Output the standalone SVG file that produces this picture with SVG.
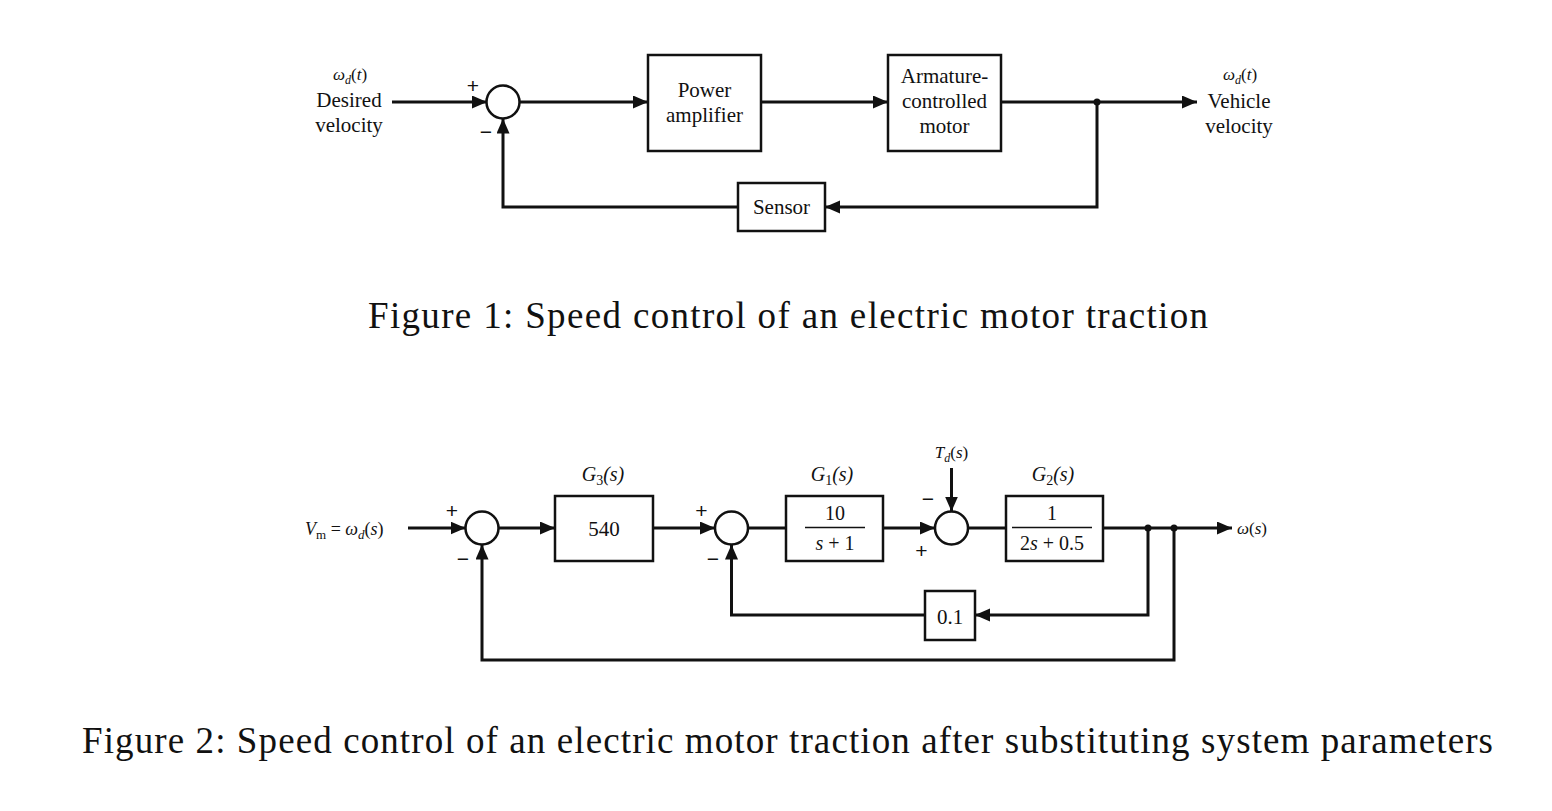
<svg xmlns="http://www.w3.org/2000/svg" width="1552" height="811" viewBox="0 0 1552 811">
<style>
.bx{fill:#fff;stroke:#111;stroke-width:2.5}
.sj{fill:#fff;stroke:#111;stroke-width:2.5}
.ln{fill:none;stroke:#111;stroke-width:3}
.ar{fill:none;stroke:#111;stroke-width:3;marker-end:url(#ah)}
.t{font-family:"Liberation Serif","Times New Roman",serif;fill:#111}
.bt{font-size:21px;text-anchor:middle}
.lb{font-size:20px;text-anchor:middle}
.it{font-style:italic}
.sg{font-family:"Liberation Sans",Arial,sans-serif;font-size:21px;fill:#111;text-anchor:middle;dominant-baseline:central}
.cap{font-family:"Liberation Serif","Times New Roman",serif;font-size:37px;fill:#111}
</style>
<defs>
<marker id="ah" markerUnits="userSpaceOnUse" markerWidth="16" markerHeight="14" refX="15" refY="6.5" orient="auto">
<path d="M0,0 L15,6.5 L0,13 Z" fill="#111"/>
</marker>
</defs>
<rect width="1552" height="811" fill="#fff"/>

<!-- ===== Figure 1 ===== -->
<g id="connectors1">
<path class="ar" d="M392,102 H487"/>
<path class="ar" d="M520,102 H648"/>
<path class="ar" d="M761,102 H888"/>
<path class="ar" d="M1001,102 H1197"/>
<path class="ar" d="M1097,102 V207 H825"/>
<path class="ar" d="M738,207 H503 V118.5"/>
<circle cx="1097" cy="102" r="3.5" fill="#111"/>
</g>
<g id="sum1">
<circle class="sj" cx="503" cy="102" r="16.5"/>
<text class="sg" x="473" y="85">+</text>
<text class="sg" x="486" y="131">−</text>
</g>
<g id="power-amplifier">
<rect class="bx" x="648" y="55" width="113" height="96"/>
<text class="t bt" x="704.5" y="97">Power</text>
<text class="t bt" x="704.5" y="122">amplifier</text>
</g>
<g id="armature-motor">
<rect class="bx" x="888" y="55" width="113" height="96"/>
<text class="t bt" x="944.5" y="83">Armature-</text>
<text class="t bt" x="944.5" y="108">controlled</text>
<text class="t bt" x="944.5" y="133">motor</text>
</g>
<g id="sensor">
<rect class="bx" x="738" y="183" width="87" height="48"/>
<text class="t bt" x="781.5" y="214">Sensor</text>
</g>
<g id="input-label1">
<text class="t" x="350" y="80" font-size="17" text-anchor="middle"><tspan font-style="italic">ω</tspan><tspan font-style="italic" font-size="12" dy="4">d</tspan><tspan dy="-4">(</tspan><tspan font-style="italic">t</tspan><tspan>)</tspan></text>
<text class="t" x="349" y="107" font-size="21" text-anchor="middle">Desired</text>
<text class="t" x="349" y="132" font-size="21" text-anchor="middle">velocity</text>
</g>
<g id="output-label1">
<text class="t" x="1240" y="80" font-size="17" text-anchor="middle"><tspan font-style="italic">ω</tspan><tspan font-style="italic" font-size="12" dy="4">d</tspan><tspan dy="-4">(</tspan><tspan font-style="italic">t</tspan><tspan>)</tspan></text>
<text class="t" x="1239" y="108" font-size="21" text-anchor="middle">Vehicle</text>
<text class="t" x="1239" y="133" font-size="21" text-anchor="middle">velocity</text>
</g>
<text class="cap" x="368" y="328" textLength="840" lengthAdjust="spacing">Figure 1: Speed control of an electric motor traction</text>

<!-- ===== Figure 2 ===== -->
<g id="connectors2">
<path class="ar" d="M408,528 H465.5"/>
<path class="ar" d="M498.5,528 H555"/>
<path class="ar" d="M653,528 H715"/>
<path class="ln" d="M748,528 H786"/>
<path class="ar" d="M883,528 H935"/>
<path class="ar" d="M951.5,468 V511.5"/>
<path class="ln" d="M968,528 H1006"/>
<path class="ar" d="M1103,528 H1232"/>
<path class="ar" d="M1148,528 V615 H975"/>
<path class="ar" d="M925,615 H731.5 V544.5"/>
<path class="ar" d="M1174,528 V660 H482 V544.5"/>
<circle cx="1148" cy="528" r="3.5" fill="#111"/>
<circle cx="1174" cy="528" r="3.5" fill="#111"/>
</g>
<g id="input-label2">
<text class="t" x="305" y="535" font-size="18"><tspan font-style="italic">V</tspan><tspan font-size="13" dy="4">m</tspan><tspan dy="-4"> = </tspan><tspan font-style="italic">ω</tspan><tspan font-style="italic" font-size="13" dy="4">d</tspan><tspan dy="-4">(</tspan><tspan font-style="italic">s</tspan><tspan>)</tspan></text>
</g>
<g id="sum2a">
<circle class="sj" cx="482" cy="528" r="16.5"/>
<text class="sg" x="452" y="510">+</text>
<text class="sg" x="463" y="558">−</text>
</g>
<g id="G3">
<text class="t lb it" x="603" y="481">G<tspan font-size="14" dy="4" font-style="normal">3</tspan><tspan dy="-4">(s)</tspan></text>
<rect class="bx" x="555" y="496" width="98" height="65"/>
<text class="t bt" x="604" y="536">540</text>
</g>
<g id="sum2b">
<circle class="sj" cx="731.5" cy="528" r="16.5"/>
<text class="sg" x="701.5" y="510">+</text>
<text class="sg" x="713" y="558">−</text>
</g>
<g id="G1">
<text class="t lb it" x="832" y="481">G<tspan font-size="14" dy="4" font-style="normal">1</tspan><tspan dy="-4">(s)</tspan></text>
<rect class="bx" x="786" y="496" width="97" height="65"/>
<text class="t lb" x="835" y="520">10</text>
<line x1="805" y1="527.5" x2="865" y2="527.5" stroke="#111" stroke-width="1.5"/>
<text class="t lb" x="835" y="550"><tspan font-style="italic">s</tspan> + 1</text>
</g>
<g id="sum2c">
<circle class="sj" cx="951.5" cy="528" r="16.5"/>
<text class="sg" x="928" y="498">−</text>
<text class="sg" x="921.5" y="550">+</text>
<text class="t" x="951.5" y="458" font-size="17" text-anchor="middle"><tspan font-style="italic">T</tspan><tspan font-style="italic" font-size="12" dy="4">d</tspan><tspan dy="-4">(</tspan><tspan font-style="italic">s</tspan><tspan>)</tspan></text>
</g>
<g id="G2">
<text class="t lb it" x="1053" y="481">G<tspan font-size="14" dy="4" font-style="normal">2</tspan><tspan dy="-4">(s)</tspan></text>
<rect class="bx" x="1006" y="496" width="97" height="65"/>
<text class="t lb" x="1052" y="520">1</text>
<line x1="1012" y1="527.5" x2="1092" y2="527.5" stroke="#111" stroke-width="1.5"/>
<text class="t lb" x="1052" y="550">2<tspan font-style="italic">s</tspan> + 0.5</text>
</g>
<g id="H">
<rect class="bx" x="925" y="591" width="50" height="49"/>
<text class="t bt" x="950" y="624">0.1</text>
</g>
<g id="output-label2">
<text class="t" x="1237" y="534" font-size="17"><tspan font-style="italic">ω</tspan>(<tspan font-style="italic">s</tspan>)</text>
</g>
<text class="cap" x="82" y="753" textLength="1411" lengthAdjust="spacing">Figure 2: Speed control of an electric motor traction after substituting system parameters</text>
</svg>
